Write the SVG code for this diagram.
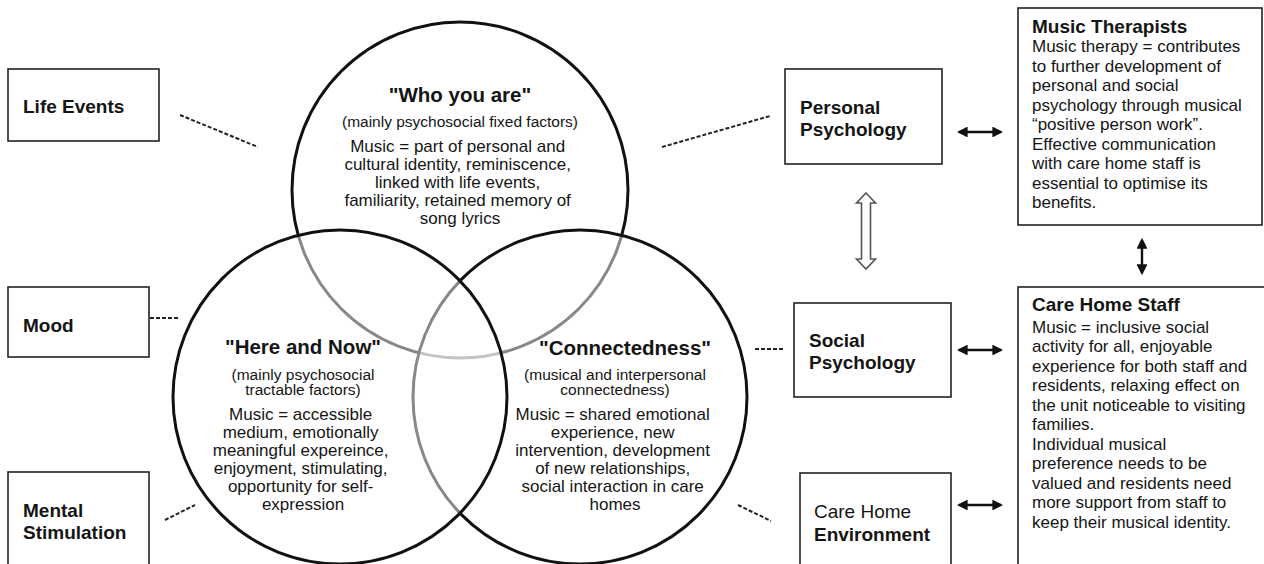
<svg xmlns="http://www.w3.org/2000/svg" width="1264" height="564" viewBox="0 0 1264 564">
<defs>
<style>
text{font-family:"Liberation Sans",Arial,sans-serif;fill:#151515}
.lbl{font-size:19px;font-weight:bold}
.reg{font-size:19px}
.ttl{font-size:20.5px;font-weight:bold;text-anchor:middle}
.sub{font-size:15.5px;text-anchor:middle}
.bod{font-size:17px;text-anchor:middle}
.bx{font-size:17px}
.box{fill:#fff;stroke:#222;stroke-width:1.6}
.circ{fill:#fff;stroke:#111;stroke-width:3}
.dash{stroke:#222;stroke-width:2;stroke-dasharray:4 2;fill:none}
.arr{stroke:#111;stroke-width:2.4;fill:none;marker-start:url(#ah);marker-end:url(#ah)}
</style>
<marker id="ah" viewBox="0 0 10 10" refX="8" refY="5" markerWidth="4.5" markerHeight="4.5" orient="auto-start-reverse" markerUnits="strokeWidth">
<path d="M0,0 L10,5 L0,10 Z" fill="#111"/>
</marker>
</defs>
<rect width="1264" height="564" fill="#fff"/>

<g id="circles">
<g id="who-you-are"><circle class="circ" cx="460" cy="190" r="168"/></g>
<g id="connectedness"><circle class="circ" cx="580" cy="397" r="167" fill-opacity="0.5"/></g>
<g id="here-and-now"><circle class="circ" cx="340" cy="397" r="167" fill-opacity="0.5"/></g>
</g>

<g id="connectors">
<line class="dash" x1="180" y1="115" x2="258" y2="147"/>
<line class="dash" x1="150" y1="318" x2="180" y2="318"/>
<line class="dash" x1="165" y1="520" x2="195" y2="505"/>
<line class="dash" x1="662" y1="147" x2="770" y2="116"/>
<line class="dash" x1="755" y1="349" x2="785" y2="349"/>
<line class="dash" x1="738" y1="505" x2="771" y2="521"/>
<line class="arr" x1="959" y1="132" x2="1001" y2="132"/>
<line class="arr" x1="959" y1="350" x2="1001" y2="350"/>
<line class="arr" x1="959" y1="505" x2="1001" y2="505"/>
<line class="arr" x1="1142" y1="240" x2="1142" y2="273"/>
<path d="M866,193 L875.5,203 L870.5,203 L870.5,259 L875.5,259 L866,269 L856.5,259 L861.5,259 L861.5,203 L856.5,203 Z" fill="#fff" stroke="#555" stroke-width="1.6" stroke-linejoin="miter"/>
</g>

<g id="life-events"><rect class="box" x="8" y="69" width="151" height="72"/><text class="lbl" x="23" y="113">Life Events</text></g>
<g id="mood"><rect class="box" x="8" y="287" width="141" height="70"/><text class="lbl" x="23" y="332">Mood</text></g>
<g id="mental-stimulation"><rect class="box" x="8" y="472" width="141" height="110"/><text class="lbl" x="23" y="517">Mental</text><text class="lbl" x="23" y="539">Stimulation</text></g>

<g id="personal-psychology"><rect class="box" x="785" y="69" width="157" height="95"/><text class="lbl" x="800" y="114">Personal</text><text class="lbl" x="800" y="136">Psychology</text></g>
<g id="social-psychology"><rect class="box" x="794" y="303" width="157" height="94"/><text class="lbl" x="809" y="347">Social</text><text class="lbl" x="809" y="369">Psychology</text></g>
<g id="care-home-environment"><rect class="box" x="800" y="473" width="151" height="110"/><text class="reg" x="814" y="518">Care Home</text><text class="lbl" x="814" y="541">Environment</text></g>

<g id="music-therapists"><rect class="box" x="1018" y="8" width="244" height="217"/>
<text class="lbl" x="1032" y="33">Music Therapists</text>
<text class="bx" x="1032">
<tspan x="1032" y="52">Music therapy = contributes</tspan>
<tspan x="1032" y="71.5">to further development of</tspan>
<tspan x="1032" y="91">personal and social</tspan>
<tspan x="1032" y="110.5">psychology through musical</tspan>
<tspan x="1032" y="130">“positive person work”.</tspan>
<tspan x="1032" y="149.5">Effective communication</tspan>
<tspan x="1032" y="169">with care home staff is</tspan>
<tspan x="1032" y="188.5">essential to optimise its</tspan>
<tspan x="1032" y="208">benefits.</tspan>
</text></g>

<g id="care-home-staff"><rect class="box" x="1018" y="287" width="260" height="300"/>
<text class="lbl" x="1032" y="311">Care Home Staff</text>
<text class="bx">
<tspan x="1032" y="332.5">Music = inclusive social</tspan>
<tspan x="1032" y="352">activity for all, enjoyable</tspan>
<tspan x="1032" y="371.5">experience for both staff and</tspan>
<tspan x="1032" y="391">residents, relaxing effect on</tspan>
<tspan x="1032" y="410.5">the unit noticeable to visiting</tspan>
<tspan x="1032" y="430">families.</tspan>
<tspan x="1032" y="449.5">Individual musical</tspan>
<tspan x="1032" y="469">preference needs to be</tspan>
<tspan x="1032" y="488.5">valued and residents need</tspan>
<tspan x="1032" y="508">more support from staff to</tspan>
<tspan x="1032" y="527.5">keep their musical identity.</tspan>
</text></g>

<g id="who-you-are-text">
<text class="ttl" x="460" y="102">"Who you are"</text>
<text class="sub" x="460" y="127">(mainly psychosocial fixed factors)</text>
<text class="bod">
<tspan x="460" y="152">Music = part of personal and</tspan>
<tspan x="460" y="170">cultural identity, reminiscence,</tspan>
<tspan x="460" y="188">linked with life events,</tspan>
<tspan x="460" y="206">familiarity, retained memory of</tspan>
<tspan x="460" y="224">song lyrics</tspan>
</text></g>

<g id="here-and-now-text">
<text class="ttl" x="303" y="354">"Here and Now"</text>
<text class="sub"><tspan x="303" y="380">(mainly psychosocial</tspan><tspan x="303" y="395">tractable factors)</tspan></text>
<text class="bod">
<tspan x="303" y="420">Music = accessible</tspan>
<tspan x="303" y="438">medium, emotionally</tspan>
<tspan x="303" y="456">meaningful expereince,</tspan>
<tspan x="303" y="474">enjoyment, stimulating,</tspan>
<tspan x="303" y="492">opportunity for self-</tspan>
<tspan x="303" y="510">expression</tspan>
</text></g>

<g id="connectedness-text">
<text class="ttl" x="625" y="355">"Connectedness"</text>
<text class="sub"><tspan x="615" y="380">(musical and interpersonal</tspan><tspan x="615" y="395">connectedness)</tspan></text>
<text class="bod">
<tspan x="615" y="420">Music = shared emotional</tspan>
<tspan x="615" y="438">experience, new</tspan>
<tspan x="615" y="456">intervention, development</tspan>
<tspan x="615" y="474">of new relationships,</tspan>
<tspan x="615" y="492">social interaction in care</tspan>
<tspan x="615" y="510">homes</tspan>
</text></g>
</svg>
